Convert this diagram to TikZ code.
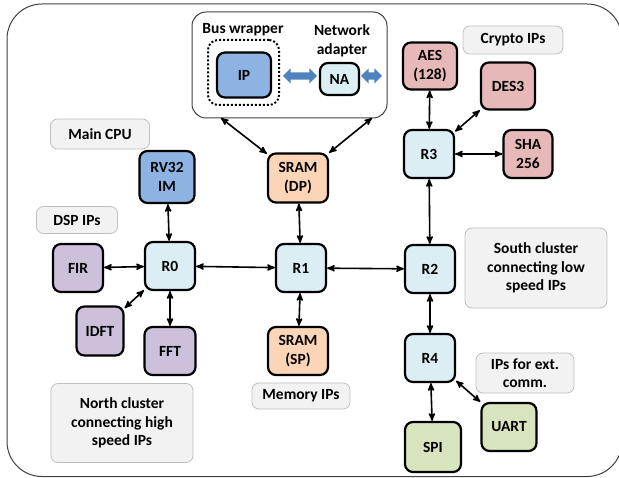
\documentclass[tikz,border=0pt]{standalone}
\usepackage{fontspec}
\setmainfont{Carlito}
\usepackage{tikz}
\usetikzlibrary{arrows, shapes.arrows}
\definecolor{rtfill}{RGB}{218,238,243}
\definecolor{cpufill}{RGB}{141,179,226}
\definecolor{memfill}{RGB}{251,213,181}
\definecolor{cryfill}{RGB}{230,185,184}
\definecolor{dspfill}{RGB}{204,192,218}
\definecolor{comfill}{RGB}{215,228,189}
\definecolor{notefill}{RGB}{242,242,242}
\definecolor{notedraw}{RGB}{191,191,191}
\definecolor{fatblue}{RGB}{79,129,189}
\definecolor{framegray}{RGB}{64,64,64}
\tikzset{
  txt/.style = {align=center, inner sep=0pt, text centered,
    font=\fontsize{15.5}{18.5}\selectfont\bfseries},
  blk/.style = {txt, draw=black, rounded corners=8pt, line width=2.2pt},
  rt/.style = {blk, fill=rtfill, minimum width=50pt, minimum height=48pt},
  ip/.style = {blk, minimum width=#1, minimum height=48pt},
  note/.style = {txt, draw=notedraw, fill=notefill, rounded corners=7pt,
    line width=0.8pt},
  link/.style = {<->, >=stealth', line width=1.6pt},
  fat/.style = {double arrow, fill=fatblue, draw=none, inner sep=3.5pt,
    double arrow head extend=4pt}
}
\begin{document}
\begin{tikzpicture}[x=1pt, y=-1pt]
\useasboundingbox (0,0) rectangle (619,478);
\draw[framegray, line width=1pt, rounded corners=35pt] (7,4) rectangle (622,476.5);

% network interface detail
\node[draw=framegray, line width=1pt, rounded corners=14pt,
  minimum width=195pt, minimum height=106pt] (bus) at (289.5,65) {};
\node[draw=black, line width=2pt, dash pattern=on 2pt off 2pt,
  rounded corners=10pt, minimum width=71pt, minimum height=65pt] (wrap) at (243.5,72.5) {};
\node[txt] (wraplbl) at (243,30) {Bus wrapper};
\node[txt] (nalbl) at (342,41) {Network\\adapter};
\node[blk, fill=cpufill, minimum width=54pt, minimum height=45pt] (ip) at (244,75) {IP};
\node[blk, fill=rtfill, minimum width=39pt, minimum height=32pt] (na) at (339.5,79) {NA};
\node[fat, minimum height=34pt] (ipna) at (300,76) {};
\node[fat, minimum height=21pt] (naout) at (371.5,76) {};
\coordinate (busl) at (221,118);
\coordinate (busr) at (372,118);

% routers
\node[rt] (r0) at (170,266) {R0};
\node[rt] (r1) at (301,268) {R1};
\node[rt] (r2) at (430,269) {R2};
\node[rt] (r3) at (429,154) {R3};
\node[rt] (r4) at (430,358) {R4};

% IPs
\node[ip=55pt, fill=cpufill, minimum height=52pt] (cpu) at (167,177) {RV32\\IM};
\node[ip=50pt, fill=dspfill] (fir) at (78,268) {FIR};
\node[ip=47pt, fill=dspfill, minimum height=49pt] (idft) at (100,331) {IDFT};
\node[ip=51pt, fill=dspfill] (fft) at (170,351) {FFT};
\node[ip=60pt, fill=memfill, minimum height=49pt] (dp) at (298,178) {SRAM\\(DP)};
\node[ip=60pt, fill=memfill] (sp) at (298,351) {SRAM\\(SP)};
\node[ip=54pt, fill=cryfill, minimum height=47pt] (aes) at (430,66) {AES\\(128)};
\node[ip=54pt, fill=cryfill, minimum height=47pt] (des) at (508,86) {DES3};
\node[ip=49pt, fill=cryfill] (sha) at (528,154) {SHA\\256};
\node[ip=55pt, fill=comfill] (uart) at (509,427) {UART};
\node[ip=56pt, fill=comfill, minimum height=50pt] (spi) at (433,447) {SPI};

% notes
\node[note, minimum width=99pt, minimum height=30pt] (cpunote) at (100,134) {Main CPU};
\node[note, minimum width=81pt, minimum height=27pt] (dspnote) at (77,220) {DSP IPs};
\node[note, minimum width=98pt, minimum height=26pt] (memnote) at (301,396) {Memory IPs};
\node[note, minimum width=100pt, minimum height=28pt] (crynote) at (513,40) {Crypto IPs};
\node[note, minimum width=98pt, minimum height=40pt] (comnote) at (525,373) {IPs for ext.\\comm.};
\node[note, minimum width=142pt, minimum height=79pt] (northnote) at (122,423) {North cluster\\connecting high\\speed IPs};
\node[note, minimum width=142pt, minimum height=80pt] (southnote) at (536,268) {South cluster\\connecting low\\speed IPs};

% links
\draw[link] (r0) -- (cpu);
\draw[link] (r0) -- (fir);
\draw[link] (r0) -- (idft);
\draw[link] (r0) -- (fft);
\draw[link] (r0) -- (r1);
\draw[link] (r1) -- (dp);
\draw[link] (r1) -- (sp);
\draw[link] (r1) -- (r2);
\draw[link] (r2) -- (r3);
\draw[link] (r2) -- (r4);
\draw[link] (r3) -- (aes);
\draw[link] (r3) -- (des);
\draw[link] (r3) -- (sha);
\draw[link] (r4) -- (spi);
\draw[link] (r4) -- (uart);
\draw[link] (busl) -- (dp);
\draw[link] (busr) -- (dp);
\end{tikzpicture}
\end{document}
